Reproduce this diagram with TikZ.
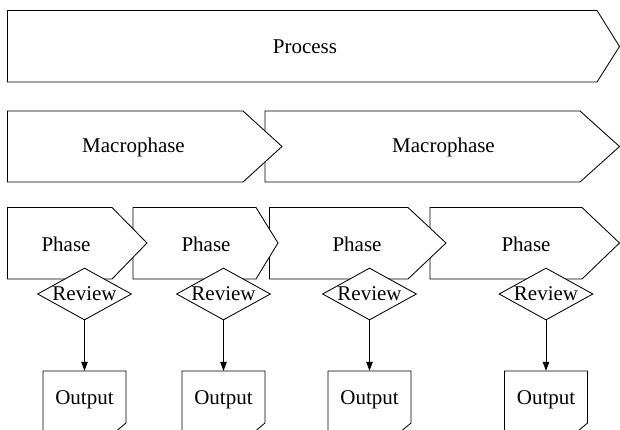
\documentclass[tikz,border=0pt]{standalone}
\usepackage{fontspec}
\setmainfont{Liberation Serif}
\usetikzlibrary{shapes.geometric,arrows.meta}
\tikzset{
  box/.style={draw=black,fill=white,line width=0.85pt,line join=miter},
  lbl/.style={font=\fontsize{21}{24}\selectfont,inner sep=0pt},
  review/.style={draw=black,fill=white,diamond,line width=0.85pt,minimum width=94pt,minimum height=52pt,inner sep=0pt},
  outnode/.style={font=\fontsize{21}{24}\selectfont,inner sep=0pt,minimum width=83pt,minimum height=58pt},
  arr/.style={draw=black,line width=0.85pt,-{Triangle[length=9pt,width=6.5pt]}}
}
\begin{document}
\begin{tikzpicture}[x=1pt,y=-1pt]
\useasboundingbox (0,0) rectangle (620,429);
% Process
\draw[box] (7.5,10.5) -- (597,10.5) -- (619.5,46.5) -- (597,82) -- (7.5,82) -- cycle;
\node[lbl] (proc) at (305,46.5) {Process};
% Macrophases
\draw[box] (265,111) -- (580,111) -- (619.5,146.5) -- (580,182) -- (265,182) -- cycle;
\draw[box] (7.5,111) -- (243,111) -- (282,146.5) -- (243,182) -- (7.5,182) -- cycle;
\node[lbl] (m1) at (133.5,147) {Macrophase};
\node[lbl] (m2) at (443.5,147) {Macrophase};
% Phases
\draw[box] (430,207.5) -- (582,207.5) -- (619.5,243) -- (582,279) -- (430,279) -- cycle;
\draw[box] (269.5,207.5) -- (408,207.5) -- (446,243) -- (408,279) -- (269.5,279) -- cycle;
\draw[box] (133,207.5) -- (256,207.5) -- (278,243) -- (256,279) -- (133,279) -- cycle;
\draw[box] (7.5,207.5) -- (112,207.5) -- (147,243) -- (112,279) -- (7.5,279) -- cycle;
\node[lbl] (p1) at (66,244) {Phase};
\node[lbl] (p2) at (206,244) {Phase};
\node[lbl] (p3) at (357,244) {Phase};
\node[lbl] (p4) at (526,244) {Phase};
% Reviews
\node[review] (d1) at (84.5,294) {};
\node[review] (d2) at (223.5,294) {};
\node[review] (d3) at (369.5,294) {};
\node[review] (d4) at (546,294) {};
\node[lbl] (r1) at (d1) {Review};
\node[lbl] (r2) at (d2) {Review};
\node[lbl] (r3) at (d3) {Review};
\node[lbl] (r4) at (d4) {Review};
% Outputs
\node[outnode] (o1) at (84.5,400) {Output};
\node[outnode] (o2) at (223.5,400) {Output};
\node[outnode] (o3) at (369.5,400) {Output};
\node[outnode] (o4) at (546,400) {Output};
\draw[box,fill=none] (43,440) -- (43,371) -- (126,371) -- (126,423) -- (114,433);
\draw[box,fill=none] (182,440) -- (182,371) -- (265,371) -- (265,423) -- (253,433);
\draw[box,fill=none] (328,440) -- (328,371) -- (411,371) -- (411,423) -- (399,433);
\draw[box,fill=none] (504.5,440) -- (504.5,371) -- (587.5,371) -- (587.5,423) -- (575.5,433);
% Connectors
\draw[arr] (d1.south) -- (o1.north);
\draw[arr] (d2.south) -- (o2.north);
\draw[arr] (d3.south) -- (o3.north);
\draw[arr] (d4.south) -- (o4.north);
\end{tikzpicture}
\end{document}
